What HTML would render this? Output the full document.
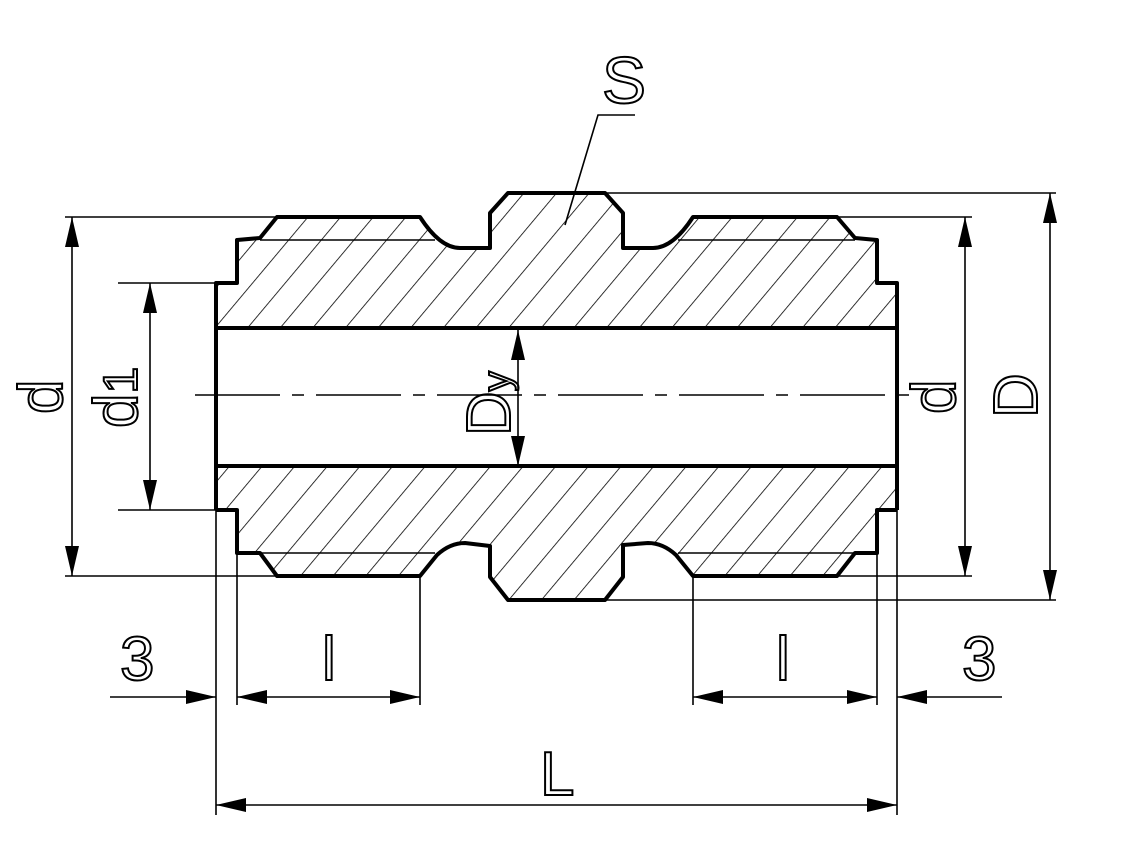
<!DOCTYPE html>
<html><head><meta charset="utf-8"><style>
html,body{margin:0;padding:0;background:#fff;width:1139px;height:858px;overflow:hidden}
svg{display:block}
text{font-family:"Liberation Sans",sans-serif;font-size:62px;fill:none;stroke:#000;stroke-width:2}
</style></head><body>
<svg width="1139" height="858" viewBox="0 0 1139 858" xmlns="http://www.w3.org/2000/svg">
<defs>
<pattern id="h" patternUnits="userSpaceOnUse" width="25" height="25" patternTransform="rotate(40)">
<line x1="0" y1="0" x2="0" y2="25" stroke="#000" stroke-width="1.6"/>
</pattern>
<marker id="a" viewBox="0 0 30 14" refX="30" refY="7" markerWidth="30" markerHeight="14" markerUnits="userSpaceOnUse" orient="auto">
<path d="M0,0 L30,7 L0,14 Z" fill="#000"/>
</marker>
<marker id="b" viewBox="0 0 30 14" refX="0" refY="7" markerWidth="30" markerHeight="14" markerUnits="userSpaceOnUse" orient="auto">
<path d="M30,0 L0,7 L30,14 Z" fill="#000"/>
</marker>
</defs>

<!-- hatched sections -->
<path d="M216,328 L216,283 L237,283 L237,240 L260,238 L277,217 L420,217 Q440,248 460,248 L490,248 L490,213 L508,193 L605,193 L623,213 L623,248 L653,248 Q673,248 693,217 L837,217 L855,238 L877,240 L877,283 L897,283 L897,328 Z" fill="url(#h)"/>
<path d="M216,466 L216,510 L237,510 L237,553 L260,553 L277,576 L420,576 L437,555 Q450,543 465,543 L490,546 L490,577 L508,600 L605,600 L623,577 L623,545 L648,543 Q663,543 676,555 L693,576 L837,576 L855,553 L877,553 L877,510 L897,510 L897,466 Z" fill="url(#h)"/>

<g fill="none" stroke="#000" stroke-width="4" stroke-linejoin="round">
<path d="M216,510 L216,283 L237,283 L237,240 L260,238 L277,217 L420,217 Q440,248 460,248 L490,248 L490,213 L508,193 L605,193 L623,213 L623,248 L653,248 Q673,248 693,217 L837,217 L855,238 L877,240 L877,283 L897,283 L897,510"/>
<path d="M216,510 L237,510 L237,553 L260,553 L277,576 L420,576 L437,555 Q450,543 465,543 L490,546 L490,577 L508,600 L605,600 L623,577 L623,545 L648,543 Q663,543 676,555 L693,576 L837,576 L855,553 L877,553 L877,510 L897,510"/>
<line x1="216" y1="328" x2="897" y2="328"/>
<line x1="216" y1="466" x2="897" y2="466"/>
</g>

<g fill="none" stroke="#000" stroke-width="1.6">
<!-- thread lines -->
<line x1="260" y1="240" x2="435" y2="240"/>
<line x1="678" y1="240" x2="855" y2="240"/>
<line x1="260" y1="553" x2="435" y2="553"/>
<line x1="678" y1="553" x2="855" y2="553"/>
<!-- centre line -->
<line x1="195" y1="395" x2="912" y2="395" stroke-dasharray="85,12,12,12"/>
<!-- extension lines -->
<line x1="65" y1="217" x2="277" y2="217"/>
<line x1="65" y1="576" x2="277" y2="576"/>
<line x1="118" y1="283" x2="216" y2="283"/>
<line x1="118" y1="510" x2="216" y2="510"/>
<line x1="837" y1="217" x2="972" y2="217"/>
<line x1="837" y1="576" x2="972" y2="576"/>
<line x1="605" y1="193" x2="1056" y2="193"/>
<line x1="605" y1="600" x2="1056" y2="600"/>
<line x1="216" y1="510" x2="216" y2="815"/>
<line x1="237" y1="553" x2="237" y2="705"/>
<line x1="420" y1="576" x2="420" y2="705"/>
<line x1="693" y1="576" x2="693" y2="705"/>
<line x1="877" y1="553" x2="877" y2="705"/>
<line x1="897" y1="510" x2="897" y2="815"/>
<!-- dimension lines -->
<line x1="72" y1="217" x2="72" y2="576" marker-start="url(#b)" marker-end="url(#a)"/>
<line x1="150" y1="283" x2="150" y2="510" marker-start="url(#b)" marker-end="url(#a)"/>
<line x1="965" y1="217" x2="965" y2="576" marker-start="url(#b)" marker-end="url(#a)"/>
<line x1="1050" y1="193" x2="1050" y2="600" marker-start="url(#b)" marker-end="url(#a)"/>
<line x1="518" y1="330" x2="518" y2="466" marker-start="url(#b)" marker-end="url(#a)"/>
<line x1="110" y1="697" x2="216" y2="697" marker-end="url(#a)"/>
<line x1="237" y1="697" x2="420" y2="697" marker-start="url(#b)" marker-end="url(#a)"/>
<line x1="693" y1="697" x2="877" y2="697" marker-start="url(#b)" marker-end="url(#a)"/>
<line x1="1002" y1="697" x2="897" y2="697" marker-end="url(#a)"/>
<line x1="216" y1="805" x2="897" y2="805" marker-start="url(#b)" marker-end="url(#a)"/>
<!-- S leader -->
<polyline points="635,115 598,115 565,225"/>
</g>

<!-- labels -->
<text x="602" y="103" style="font-size:66px">S</text>
<text x="120" y="680">3</text>
<text x="962" y="680">3</text>
<text x="322" y="680">l</text>
<text x="776" y="680">l</text>
<text x="540" y="795">L</text>
<text transform="translate(62,414) rotate(-90)">d</text>
<text transform="translate(137,428) rotate(-90)">d<tspan style="font-size:48px" dy="0">1</tspan></text>
<text transform="translate(955,414) rotate(-90)">d</text>
<text transform="translate(1037,418) rotate(-90)">D</text>
<text transform="translate(510,436) rotate(-90)">D<tspan style="font-size:40px">y</tspan></text>
</svg>
</body></html>
